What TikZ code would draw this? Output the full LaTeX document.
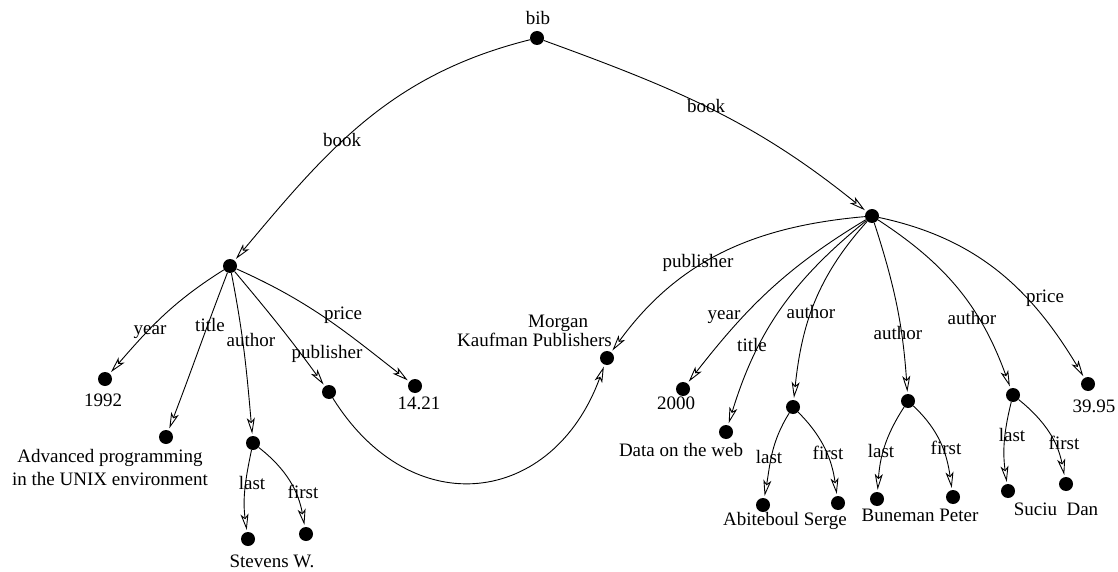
\documentclass[tikz,border=0pt]{standalone}
\usepackage{fontspec}
\setmainfont{Liberation Serif}
\usetikzlibrary{arrows.meta}
\begin{document}
\begin{tikzpicture}[x=1pt,y=1pt,
  dot/.style={circle,fill=black,inner sep=0pt,minimum size=14pt},
  lbl/.style={font=\fontsize{19}{23}\selectfont,inner sep=0pt,text height=13pt,text depth=4pt},
  txt/.style={font=\fontsize{19}{23}\selectfont,inner sep=0pt},
  edge/.style={-{Stealth[open,length=16pt,width=8pt,inset=4pt]},line width=0.9pt,shorten >=2pt}]
\useasboundingbox (0,0) rectangle (1118,-572);
% dots
\node[dot] (bib) at (537,-38) {};
\node[dot] (B1) at (230,-266) {};
\node[dot] (B2) at (872,-216) {};
\node[dot] (y1) at (105,-379) {};
\node[dot] (t1) at (166,-437) {};
\node[dot] (a1) at (253,-443) {};
\node[dot] (p1) at (329,-392) {};
\node[dot] (pr1) at (415,-386) {};
\node[dot] (ln1) at (248,-539) {};
\node[dot] (fn1) at (306,-534) {};
\node[dot] (mk) at (607,-358) {};
\node[dot] (y2) at (683,-389) {};
\node[dot] (t2) at (726,-432) {};
\node[dot] (a21) at (793,-407) {};
\node[dot] (a22) at (908,-401) {};
\node[dot] (a23) at (1013,-395) {};
\node[dot] (pr2) at (1088,-384) {};
\node[dot] (l21) at (763,-505) {};
\node[dot] (f21) at (838,-503) {};
\node[dot] (l22) at (877,-499) {};
\node[dot] (f22) at (953,-497) {};
\node[dot] (l23) at (1008,-491) {};
\node[dot] (f23) at (1066,-484) {};
% value texts
\node[lbl] (tbib) at (538,-20) {bib};
\node[lbl] (t1992) at (103,-402) {1992};
\node[txt,align=center,anchor=north] (tadv) at (110,-449) {Advanced programming\\in the UNIX environment};
\node[lbl] (tstev) at (272,-563) {Stevens W.};
\node[lbl] (t1421) at (419,-405) {14.21};
\node[txt,align=left,anchor=north west,font=\fontsize{19}{17}\selectfont] (tmk) at (457,-315) {\hspace*{71pt}Morgan\\Kaufman Publishers};
\node[lbl] (t2000) at (676,-405) {2000};
\node[lbl] (tdata) at (681,-452) {Data on the web};
\node[lbl] (tabit) at (785,-521) {Abiteboul Serge};
\node[lbl] (tbun) at (920,-517) {Buneman Peter};
\node[lbl] (tsuc) at (1056,-511) {Suciu\ \ Dan};
\node[lbl] (t3995) at (1094,-408) {39.95};
% edges
\draw[edge] (bib) to[out=194,in=50] (B1);
\draw[edge] (bib) to[out=340,in=141] (B2);
\draw[edge] (B1) to[out=212,in=49] (y1);
\draw[edge] (B1) to[out=249,in=69] (t1);
\draw[edge] (B1) to[out=281,in=95] (a1);
\draw[edge] (B1) to[out=310,in=126] (p1);
\draw[edge] (B1) to[out=336,in=142] (pr1);
\draw[edge] (a1) to[out=258,in=98] (ln1);
\draw[edge] (a1) to[out=322,in=100] (fn1);
\draw[edge] (p1) to[out=302,in=250,looseness=1.4] (mk);
\draw[edge] (B2) to[out=185,in=54] (mk);
\draw[edge] (B2) to[out=211,in=52] (y2);
\draw[edge] (B2) to[out=219,in=73] (t2);
\draw[edge] (B2) to[out=228,in=84] (a21);
\draw[edge] (B2) to[out=288,in=94] (a22);
\draw[edge] (B2) to[out=327,in=110] (a23);
\draw[edge] (B2) to[out=348,in=121] (pr2);
\draw[edge] (a21) to[out=238,in=80] (l21);
\draw[edge] (a21) to[out=315,in=98] (f21);
\draw[edge] (a22) to[out=237,in=86] (l22);
\draw[edge] (a22) to[out=317,in=98] (f22);
\draw[edge] (a23) to[out=256,in=98] (l23);
\draw[edge] (a23) to[out=321,in=101] (f23);
% edge labels
\node[lbl] (ebook1) at (342,-142) {book};
\node[lbl] (ebook2) at (706,-108) {book};
\node[lbl] (eyr1) at (150,-330) {year};
\node[lbl] (eti1) at (210,-327) {title};
\node[lbl] (eau1) at (251,-342) {author};
\node[lbl] (epu1) at (327,-354) {publisher};
\node[lbl] (epr1) at (343,-315) {price};
\node[lbl] (ela1) at (252,-485) {last};
\node[lbl] (efi1) at (303,-494) {first};
\node[lbl] (epu2) at (698,-263) {publisher};
\node[lbl] (eyr2) at (724,-315) {year};
\node[lbl] (eti2) at (752,-347) {title};
\node[lbl] (eau21) at (811,-314) {author};
\node[lbl] (eau22) at (898,-335) {author};
\node[lbl] (eau23) at (972,-320) {author};
\node[lbl] (epr2) at (1045,-298) {price};
\node[lbl] (ela21) at (769,-459) {last};
\node[lbl] (efi21) at (828,-455) {first};
\node[lbl] (ela22) at (881,-453) {last};
\node[lbl] (efi22) at (946,-450) {first};
\node[lbl] (ela23) at (1012,-437) {last};
\node[lbl] (efi23) at (1064,-445) {first};
\end{tikzpicture}
\end{document}
